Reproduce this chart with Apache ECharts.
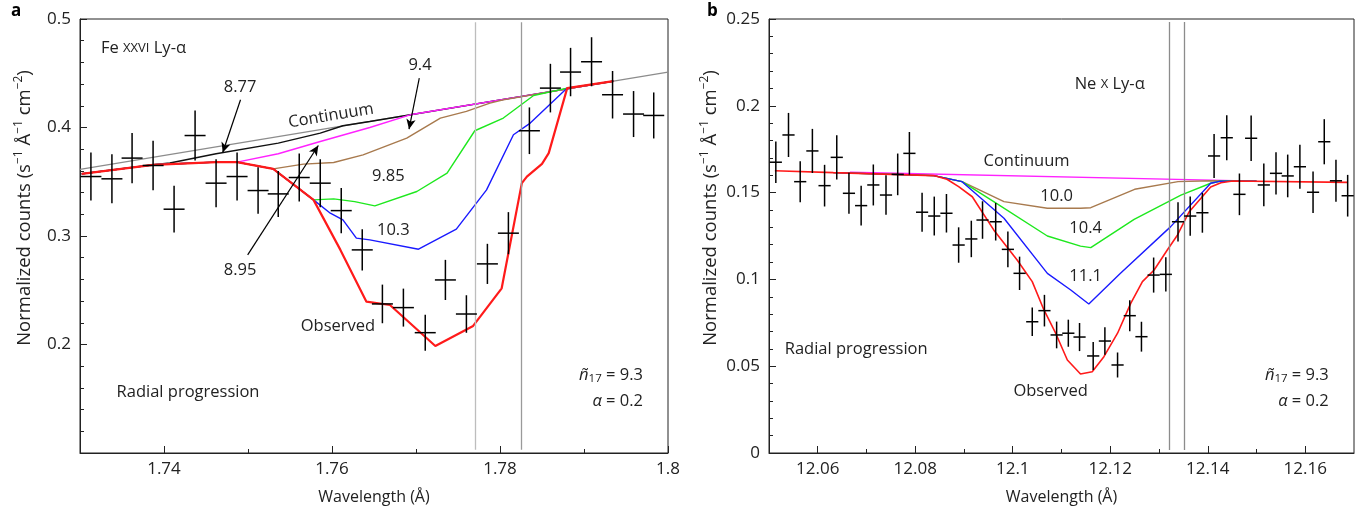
<!DOCTYPE html>
<html><head><meta charset="utf-8">
<script src="https://cdn.jsdelivr.net/npm/echarts@6.0.0/dist/echarts.min.js"></script>
<style>html,body{margin:0;padding:0;background:#fff}#c{width:1363px;height:512px}</style>
</head><body><div id="c"></div><script>
// ---------------- Panel a : Fe XXVI Ly-alpha ----------------
const aWave = [1.7313,1.7338,1.7362,1.7387,1.7412,1.7437,1.7462,1.7487,1.7512,1.7536,1.7561,1.7586,1.7611,1.7636,1.7660,1.7685,1.7711,1.7735,1.7760,1.7785,1.7810,1.7835,1.7860,1.7884,1.7909,1.7934,1.7959,1.7983];
const aCounts = [0.3548,0.3527,0.3718,0.3650,0.3247,0.3926,0.3487,0.3548,0.3419,0.3388,0.3539,0.3487,0.3234,0.2872,0.2374,0.2340,0.2109,0.2595,0.2281,0.2743,0.3026,0.3970,0.4363,0.4511,0.4606,0.4302,0.4124,0.4111];
const aErr = [0.0221,0.0226,0.0231,0.0228,0.0215,0.0231,0.0221,0.0221,0.0215,0.0212,0.0221,0.0221,0.0208,0.0191,0.0178,0.0175,0.0166,0.0185,0.0173,0.0185,0.0194,0.0215,0.0224,0.0223,0.0226,0.0219,0.0212,0.0212];
const aContinuum = [[1.73,0.3614],[1.80,0.4510]];
const aModel877 = [[1.7302,0.3573],[1.7387,0.3656],[1.7407,0.3672],[1.7462,0.3758],[1.7536,0.3856],[1.7586,0.3948],[1.7613,0.4016],[1.7645,0.4055],[1.7880,0.4356],[1.7935,0.4427]];
const aModel895 = [[1.7302,0.3573],[1.7387,0.3656],[1.7462,0.3681],[1.7487,0.3681],[1.7536,0.3758],[1.7586,0.3871],[1.7645,0.4000],[1.7693,0.4117],[1.7880,0.4356],[1.7935,0.4427]];
const aModel94 = [[1.7302,0.3573],[1.7387,0.3656],[1.7462,0.3681],[1.7487,0.3681],[1.7530,0.3619],[1.7566,0.3662],[1.7602,0.3677],[1.7637,0.3748],[1.7689,0.3902],[1.7729,0.4087],[1.7760,0.4148],[1.7788,0.4225],[1.7804,0.4255],[1.7880,0.4356],[1.7935,0.4427]];
const aModel985 = [[1.7302,0.3573],[1.7387,0.3656],[1.7462,0.3681],[1.7487,0.3681],[1.7530,0.3619],[1.7578,0.3333],[1.7602,0.3342],[1.7627,0.3317],[1.7651,0.3278],[1.7701,0.3410],[1.7737,0.3579],[1.7770,0.3970],[1.7804,0.4087],[1.7840,0.4295],[1.7880,0.4363],[1.7935,0.4427]];
const aModel103 = [[1.7302,0.3573],[1.7387,0.3656],[1.7462,0.3681],[1.7487,0.3681],[1.7530,0.3619],[1.7578,0.3333],[1.7598,0.3210],[1.7613,0.3149],[1.7629,0.2980],[1.7645,0.2964],[1.7703,0.2878],[1.7748,0.3063],[1.7784,0.3425],[1.7816,0.3933],[1.7836,0.4041],[1.7880,0.4363],[1.7935,0.4427]];
const aObserved = [[1.7302,0.3573],[1.7387,0.3656],[1.7462,0.3681],[1.7487,0.3681],[1.7530,0.3619],[1.7578,0.3333],[1.7610,0.2872],[1.7641,0.2395],[1.7669,0.2364],[1.7723,0.1986],[1.7768,0.2171],[1.7802,0.2518],[1.7826,0.3487],[1.7832,0.3548],[1.7850,0.3665],[1.7858,0.3764],[1.7880,0.4363],[1.7935,0.4427]];
const aMarkers = [1.7770, 1.7825];
const aXTicks = [1.74,1.76,1.78,1.8];
const aXMinor = [1.75,1.77,1.79];

// ---------------- Panel b : Ne X Ly-alpha ----------------
const bWave = [12.0514,12.0540,12.0564,12.0589,12.0614,12.0639,12.0664,12.0689,12.0714,12.0740,12.0764,12.0788,12.0814,12.0839,12.0864,12.0889,12.0915,12.0938,12.0965,12.0990,12.1014,12.1040,12.1065,12.1090,12.1114,12.1137,12.1165,12.1189,12.1215,12.1240,12.1264,12.1289,12.1314,12.1339,12.1364,12.1389,12.1413,12.1439,12.1465,12.1489,12.1515,12.1540,12.1564,12.1589,12.1616,12.1639,12.1663,12.1687];
const bCounts = [0.1675,0.1832,0.1563,0.1740,0.1540,0.1703,0.1496,0.1425,0.1544,0.1486,0.1605,0.1726,0.1387,0.1365,0.1381,0.1198,0.1233,0.1342,0.1332,0.1173,0.1035,0.0756,0.0820,0.0680,0.0690,0.0668,0.0559,0.0645,0.0507,0.0791,0.0670,0.1025,0.1029,0.1332,0.1365,0.1384,0.1711,0.1816,0.1490,0.1813,0.1544,0.1611,0.1596,0.1649,0.1502,0.1793,0.1568,0.1482];
const bErr = [0.0120,0.0127,0.0118,0.0127,0.0120,0.0127,0.0118,0.0114,0.0118,0.0114,0.0120,0.0123,0.0112,0.0112,0.0111,0.0102,0.0105,0.0108,0.0108,0.0103,0.0096,0.0082,0.0091,0.0077,0.0078,0.0081,0.0081,0.0079,0.0072,0.0089,0.0086,0.0101,0.0099,0.0113,0.0113,0.0115,0.0127,0.0130,0.0120,0.0131,0.0123,0.0122,0.0123,0.0127,0.0120,0.0130,0.0121,0.0120];
const bContinuum = [[12.0666,0.1617],[12.1500,0.1566]];
const bModel100 = [[12.0632,0.1615],[12.0838,0.1598],[12.0896,0.1563],[12.0982,0.1448],[12.1071,0.1410],[12.1139,0.1410],[12.1160,0.1413],[12.1250,0.1519],[12.1339,0.1563],[12.1406,0.1568],[12.1500,0.1566]];
const bModel104 = [[12.0632,0.1615],[12.0838,0.1598],[12.0896,0.1563],[12.0961,0.1448],[12.1071,0.1250],[12.1139,0.1192],[12.1160,0.1183],[12.1249,0.1346],[12.1345,0.1486],[12.1406,0.1554],[12.1427,0.1567],[12.1500,0.1566]];
const bModel111 = [[12.0632,0.1615],[12.0838,0.1598],[12.0896,0.1563],[12.0982,0.1352],[12.1071,0.1035],[12.1119,0.0939],[12.1156,0.0858],[12.1221,0.1035],[12.1324,0.1304],[12.1406,0.1554],[12.1424,0.1565],[12.1500,0.1566]];
const bObserved = [[12.0512,0.1626],[12.0632,0.1615],[12.0838,0.1598],[12.0865,0.1577],[12.0889,0.1534],[12.0917,0.1476],[12.0961,0.1285],[12.1009,0.1112],[12.1040,0.0987],[12.1064,0.0824],[12.1088,0.0690],[12.1112,0.0536],[12.1139,0.0455],[12.1163,0.0468],[12.1187,0.0555],[12.1215,0.0690],[12.1242,0.0862],[12.1266,0.0987],[12.1290,0.1054],[12.1317,0.1169],[12.1338,0.1256],[12.1362,0.1390],[12.1386,0.1467],[12.1406,0.1532],[12.1427,0.1557],[12.1451,0.1567],[12.1687,0.1559]];
const bMarkers = [12.1320, 12.1352];
const bXTicks = [12.06,12.08,12.10,12.12,12.14,12.16];
const bXMinor = [12.07,12.09,12.11,12.13,12.15];

const BIN_HALF = 0.00125;

// ---------------- styling ----------------
const FONT = '"Open Sans", "Noto Sans", sans-serif';
const TXT = '#222';
const AX = '#222';
const ANN = 16.5;
const C = {red:'#ff1a1a', blue:'#1a1aff', green:'#1ee81e', brown:'#a87a4e', magenta:'#ff22ff', black:'#111', grey:'#8c8c8c'};

const chart = echarts.init(document.getElementById('c'), null, {renderer:'canvas'});

function fmt(v){ return String(parseFloat(Number(v).toFixed(3))); }

function mainX(grid, min, max, ticks){
  return {type:'value', gridIndex:grid, min:min, max:max, position:'bottom',
    axisLine:{show:true, lineStyle:{color:AX, width:1}},
    axisTick:{show:true, inside:true, length:7, customValues:ticks, lineStyle:{color:AX, width:1}},
    axisLabel:{show:true, customValues:ticks, formatter:fmt, color:TXT, fontFamily:FONT, fontSize:17, margin:8},
    splitLine:{show:false},
    name:'Wavelength (Å)', nameLocation:'middle', nameGap:36,
    nameTextStyle:{color:TXT, fontFamily:FONT, fontSize:16}};
}
function minorX(grid, min, max, ticks){
  return {type:'value', gridIndex:grid, min:min, max:max, position:'bottom',
    axisLine:{show:false}, axisLabel:{show:false}, splitLine:{show:false},
    axisTick:{show:true, inside:true, length:4, customValues:ticks, lineStyle:{color:AX, width:1}}};
}
function mainY(grid, min, max, interval, hideMin, gap){
  return {type:'value', gridIndex:grid, min:min, max:max, interval:interval,
    axisLine:{show:true, lineStyle:{color:AX, width:1}},
    axisTick:{show:true, inside:true, length:7, lineStyle:{color:AX}},
    minorTick:{show:true, splitNumber:5, length:4, lineStyle:{color:AX}},
    axisLabel:{color:TXT, fontFamily:FONT, fontSize:17, margin:9,
      formatter:function(v){ if(hideMin && Math.abs(v-min)<1e-9) return ''; return fmt(v);} },
    splitLine:{show:false}, minorSplitLine:{show:false},
    name:'Normalized counts (s{sup|−1} Å{sup|−1} cm{sup|−2})', nameLocation:'middle', nameGap:gap,
    nameTextStyle:{color:TXT, fontFamily:FONT, fontSize:18.5, lineHeight:24, padding:[0,0,0,56],
      rich:{sup:{fontFamily:FONT, fontSize:12, lineHeight:14, verticalAlign:'top', color:TXT}}}};
}

function crossRender(params, api){
  const x = api.value(0), y = api.value(1), e = api.value(2);
  const l = api.coord([x-BIN_HALF, y]), r = api.coord([x+BIN_HALF, y]);
  const t = api.coord([x, y+e]), b = api.coord([x, y-e]);
  const st = {stroke:'#000', lineWidth:1.5};
  return {type:'group', children:[
    {type:'line', shape:{x1:l[0], y1:l[1], x2:r[0], y2:r[1]}, style:st},
    {type:'line', shape:{x1:t[0], y1:t[1], x2:b[0], y2:b[1]}, style:st}]};
}
function crossSeries(xi, yi, xs, ys, es){
  return {type:'custom', xAxisIndex:xi, yAxisIndex:yi, renderItem:crossRender, z:5,
    data: xs.map((x,i)=>[x, ys[i], es[i]]), encode:{x:0, y:1}, silent:true};
}
function lineSeries(xi, yi, data, color, width, z){
  return {type:'line', xAxisIndex:xi, yAxisIndex:yi, data:data, symbol:'none', silent:true,
    lineStyle:{color:color, width:width}, z:z||3};
}
function markerSeries(xi, yi, xs, ylo, yhi, colors){
  return {type:'line', xAxisIndex:xi, yAxisIndex:yi, data:[], silent:true,
    markLine:{silent:true, symbol:['none','none'], label:{show:false}, animation:false,
      data: xs.map((x,i)=>[{coord:[x,ylo], lineStyle:{color:colors[i], width:1.3, type:'solid'}},{coord:[x,yhi]}])}};
}

const aArrows = [[[1.74911,0.4256],[1.74699,0.3769]],[[1.77039,0.4456],[1.76917,0.3985]],[[1.74996,0.2826],[1.75837,0.3834]]];

const option = {
  animation:false,
  backgroundColor:'#fff',
  grid:[
    {left:80, right:695, top:19, bottom:59, show:true, borderColor:AX, borderWidth:1, backgroundColor:'transparent'},
    {left:769, right:9, top:19, bottom:59, show:true, borderColor:AX, borderWidth:1, backgroundColor:'transparent'}
  ],
  xAxis:[ mainX(0,1.73,1.8,aXTicks), minorX(0,1.73,1.8,aXMinor), mainX(1,12.05,12.17,bXTicks), minorX(1,12.05,12.17,bXMinor) ],
  yAxis:[ mainY(0,0.1,0.5,0.1,true,43), mainY(1,0,0.25,0.05,false,46) ],
  series:[
    markerSeries(0,0,aMarkers,0.103,0.497,['#bdbdbd','#9a9a9a']),
    lineSeries(0,0,aContinuum,C.grey,1.3,2),
    lineSeries(0,0,aModel877,C.black,1.5,3),
    lineSeries(0,0,aModel895,C.magenta,1.4,3),
    lineSeries(0,0,aModel94,C.brown,1.4,3),
    lineSeries(0,0,aModel985,C.green,1.4,3),
    lineSeries(0,0,aModel103,C.blue,1.4,3),
    lineSeries(0,0,aObserved,C.red,2.2,4),
    {type:'line', xAxisIndex:0, yAxisIndex:0, data:[], silent:true,
      markLine:{silent:true, animation:false, symbol:['none','arrow'], symbolSize:[7,10], label:{show:false},
        lineStyle:{color:'#000', width:1.2, type:'solid'},
        data:aArrows.map(p=>[{coord:p[0]},{coord:p[1]}])}},
    crossSeries(0,0,aWave,aCounts,aErr),

    markerSeries(2,1,bMarkers,0.0017,0.2483,['#8c8c8c','#8c8c8c']),
    lineSeries(2,1,bContinuum,C.magenta,1.4,3),
    lineSeries(2,1,bModel100,C.brown,1.4,3),
    lineSeries(2,1,bModel104,C.green,1.4,3),
    lineSeries(2,1,bModel111,C.blue,1.4,3),
    lineSeries(2,1,bObserved,C.red,1.6,4),
    crossSeries(2,1,bWave,bCounts,bErr)
  ]
};
chart.setOption(option);

// ---------------- annotations (placed in data coordinates) ----------------
const aLabels = [
  {t:'Fe {sc|XXVI} Ly-α', x:1.7325, y:0.4726, align:'left'},
  {t:'8.77', x:1.74905, y:0.4370},
  {t:'Continuum', x:1.75988, y:0.4108, follow:aContinuum},
  {t:'9.4', x:1.77048, y:0.4569},
  {t:'9.85', x:1.7667, y:0.3548},
  {t:'10.3', x:1.7673, y:0.3056},
  {t:'8.95', x:1.74905, y:0.2681},
  {t:'Observed', x:1.76071, y:0.2171},
  {t:'Radial progression', x:1.74286, y:0.1562},
  {t:'{it|ñ}{sub|17} = 9.3', x:1.79702, y:0.1712, align:'right'},
  {t:'{it|α} = 0.2', x:1.79702, y:0.1472, align:'right'}
];
const bLabels = [
  {t:'Ne {sc|X} Ly-α', x:12.11989, y:0.2126},
  {t:'Continuum', x:12.10283, y:0.1678},
  {t:'10.0', x:12.10899, y:0.1480},
  {t:'10.4', x:12.11495, y:0.1293},
  {t:'11.1', x:12.11495, y:0.1016},
  {t:'Observed', x:12.10776, y:0.0357},
  {t:'Radial progression', x:12.06788, y:0.0599},
  {t:'{it|ñ}{sub|17} = 9.3', x:12.16483, y:0.0445, align:'right'},
  {t:'{it|α} = 0.2', x:12.16483, y:0.0296, align:'right'}
];
const rich = {
  sc:{fontFamily:FONT, fontSize:13, color:TXT},
  it:{fontFamily:FONT, fontSize:ANN, fontStyle:'italic', color:TXT},
  sub:{fontFamily:FONT, fontSize:11.5, color:TXT, verticalAlign:'bottom', lineHeight:12, padding:[7,0,0,0]}
};
function makeTexts(labels, finder){
  return labels.map(L=>{
    const p = chart.convertToPixel(finder, [L.x, L.y]);
    let rot = 0;
    if(L.follow){
      const p0 = chart.convertToPixel(finder, L.follow[0]);
      const p1 = chart.convertToPixel(finder, L.follow[1]);
      rot = -Math.atan2(p1[1]-p0[1], p1[0]-p0[0]);
    }
    return {type:'text', x:p[0], y:p[1], rotation:rot, z:10, silent:true,
      style:{text:L.t, fontFamily:FONT, fontSize:ANN, fill:TXT, align:L.align||'center', verticalAlign:'middle', rich:rich}};
  });
}
const graphics = []
  .concat(makeTexts(aLabels, {xAxisIndex:0, yAxisIndex:0}))
  .concat(makeTexts(bLabels, {xAxisIndex:2, yAxisIndex:1}))
  .concat([
    {type:'text', left:11, top:3, style:{text:'a', fontFamily:FONT, fontSize:17, fontWeight:'bold', fill:'#000'}},
    {type:'text', left:707, top:3, style:{text:'b', fontFamily:FONT, fontSize:17, fontWeight:'bold', fill:'#000'}}
  ]);
chart.setOption({graphic:graphics});
</script></body></html>
